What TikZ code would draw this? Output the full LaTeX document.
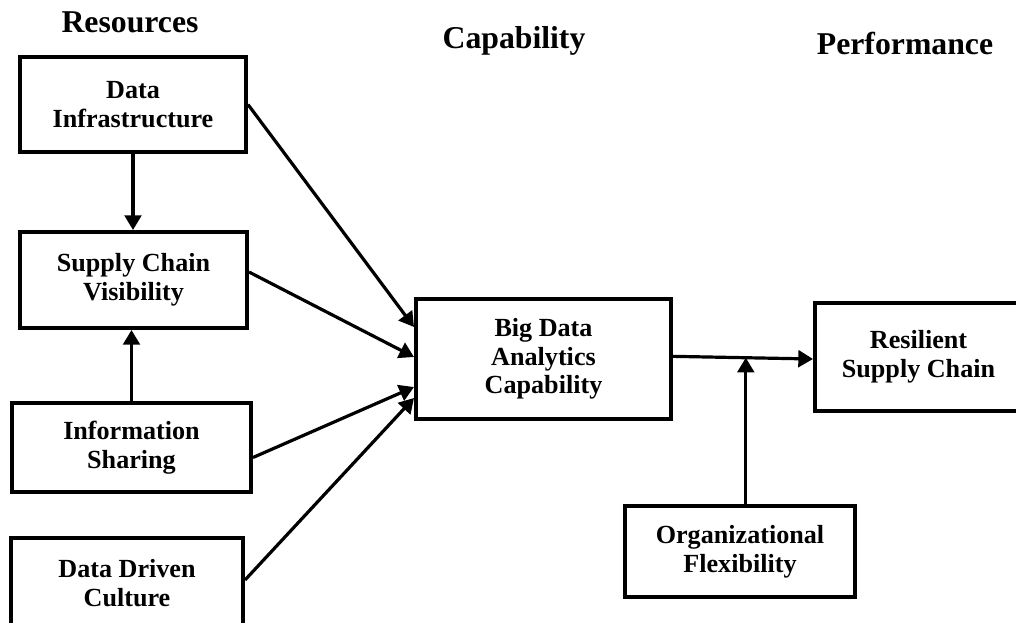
\documentclass[tikz,border=0pt]{standalone}
\usepackage{fontspec}
\setmainfont{Liberation Serif}
\usetikzlibrary{arrows.meta}

\begin{document}
\begin{tikzpicture}[x=0.75pt,y=-0.75pt,
    box/.style={draw,line width=3pt,align=center,inner sep=0pt,
        font=\bfseries\fontsize{19.6}{21.5}\selectfont},
    head/.style={anchor=base,inner sep=0pt,font=\bfseries\fontsize{23.8}{28}\selectfont},
    arr/.style={line width=2.4pt,-{Triangle[length=11pt,width=12.5pt]}}]
    \clip (0,0) rectangle (1016,622);

    % Column headings
    \node[head] (hres) at (130,32) {Resources};
    \node[head] (hcap) at (514,48) {Capability};
    \node[head] (hperf) at (905,54) {Performance};

    % Resources
    \node[box,minimum width=169.5pt,minimum height=71.25pt] (di) at (133,104.5) {Data\\Infrastructure};
    \node[box,minimum width=170.25pt,minimum height=72pt] (scv) at (133.5,280) {Supply Chain\\Visibility};
    \node[box,minimum width=179.25pt,minimum height=66.75pt] (is) at (131.5,447.5) {Information\\Sharing};
    \node[box,minimum width=174pt,minimum height=67.5pt] (ddc) at (127,583) {Data Driven\\Culture};

    % Capability and performance
    \node[box,minimum width=191.25pt,minimum height=90pt] (bda) at (543.5,359) {Big Data\\Analytics\\Capability};
    \node[box,minimum width=155.25pt,minimum height=81pt] (rsc) at (918.5,357) {Resilient\\Supply Chain};
    \node[box,minimum width=172.5pt,minimum height=68.25pt] (of) at (740,551.5) {Organizational\\Flexibility};

    % Links between resources
    \draw[arr] (di.south) -- (di.south |- scv.north);
    \draw[arr] (is.north) -- (is.north |- scv.south);

    % Resources to capability
    \draw[arr] (di.east) -- ([yshift=24pt]bda.west);
    \draw[arr] ([yshift=6pt]scv.east) -- ([yshift=1.5pt]bda.west);
    \draw[arr] ([yshift=-7.5pt]is.east) -- ([yshift=-21pt]bda.west);
    \draw[arr] ([yshift=2.25pt]ddc.east) -- ([yshift=-29.25pt]bda.west);

    % Capability to performance, moderated
    \draw[arr] ([yshift=2pt]bda.east) -- coordinate[pos=0.52] (mod) ([yshift=-1.5pt]rsc.west);
    \draw[arr] (of.north -| mod) -- (mod);
\end{tikzpicture}
\end{document}
